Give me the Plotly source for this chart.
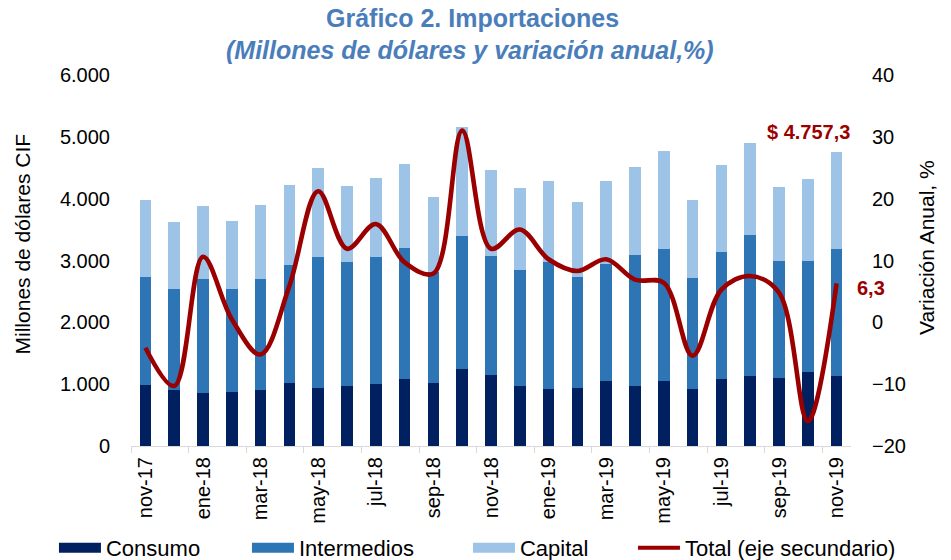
import plotly.graph_objects as go

months = ["nov-17", "dic-17", "ene-18", "feb-18", "mar-18", "abr-18", "may-18", "jun-18",
          "jul-18", "ago-18", "sep-18", "oct-18", "nov-18", "dic-18", "ene-19", "feb-19",
          "mar-19", "abr-19", "may-19", "jun-19", "jul-19", "ago-19", "sep-19", "oct-19", "nov-19"]

consumo = [987, 906, 863, 879, 906, 1025, 944, 976, 998, 1090, 1025, 1252, 1154,
           976, 917, 944, 1047, 976, 1057, 917, 1079, 1138, 1106, 1203, 1138]
intermedios = [1753, 1634, 1839, 1661, 1796, 1904, 2109, 2007, 2066, 2119, 1785, 2146, 1920,
               1872, 2066, 1785, 1893, 2109, 2136, 1807, 2055, 2276, 1888, 1797, 2055]
capital = [1241, 1090, 1181, 1101, 1198, 1294, 1440, 1229, 1267, 1354, 1224, 1759, 1392,
           1321, 1305, 1214, 1348, 1430, 1581, 1251, 1418, 1484, 1197, 1320, 1564.3]
variacion = [-4.1, -10.3, 10.6, 0.5, -5.2, 5.9, 21.2, 11.9, 15.9, 9.7, 7.9, 31.0, 11.9,
             15.0, 10.2, 8.3, 10.2, 6.9, 6.4, -5.4, 5.3, 7.5, 4.8, -16.0, 6.3]

FONT = "Liberation Sans, Arial, sans-serif"
C_CONS = "#002060"
C_INT = "#2E75B6"
C_CAP = "#9DC3E6"
C_TOT = "#9B0000"
C_TITLE = "#4A7EBB"


def es_num(v, dec=1):
    s = f"{v:,.{dec}f}"
    return s.replace(",", "X").replace(".", ",").replace("X", ".")


total_last = consumo[-1] + intermedios[-1] + capital[-1]

fig = go.Figure()
for name, vals, col in [("Consumo", consumo, C_CONS), ("Intermedios", intermedios, C_INT),
                        ("Capital", capital, C_CAP)]:
    fig.add_trace(go.Bar(x=months, y=vals, name=name, marker_color=col,
                         marker_line_width=0, showlegend=False))

fig.add_trace(go.Scatter(x=months, y=variacion, yaxis="y2", mode="lines",
                         line=dict(color=C_TOT, width=4.6, shape="spline", smoothing=1.0),
                         name="Total (eje secundario)", showlegend=False))

# legend entries (wide swatches like the original)
for name, col, w, lw in [("Consumo", C_CONS, 10, 136), ("Intermedios", C_INT, 10, 164),
                         ("Capital", C_CAP, 10, 108), ("Total (eje secundario)", C_TOT, 4, None)]:
    fig.add_trace(go.Scatter(x=[months[0]], y=[None], mode="lines", name=name,
                             line=dict(color=col, width=w), showlegend=True,
                             legendwidth=lw))

fig.update_layout(
    width=951, height=560,
    barmode="stack", bargap=0.6,
    separators=",.",
    paper_bgcolor="white", plot_bgcolor="white",
    margin=dict(l=131, r=100, t=75, b=114, autoexpand=False),
    font=dict(family=FONT, size=20, color="#000000"),
    xaxis=dict(
        type="category", categoryorder="array", categoryarray=months,
        range=[-0.5, len(months) - 0.5],
        tickmode="linear", tick0=0, dtick=2, tickson="boundaries",
        ticks="outside", ticklen=6, tickcolor="#D9D9D9",
        showline=True, linecolor="#D9D9D9", linewidth=1,
        tickangle=-90, showgrid=False, ticklabelstandoff=2,
        tickfont=dict(size=20),
    ),
    yaxis=dict(
        range=[0, 6000], dtick=1000, tickformat=",d", showgrid=False,
        zeroline=False, showline=False, ticks="", ticklabelstandoff=20,
        tickfont=dict(size=20),
    ),
    yaxis2=dict(
        range=[-20, 40], dtick=10, overlaying="y", side="right", showgrid=False,
        zeroline=False, showline=False, ticks="", ticklabelstandoff=20,
        tickfont=dict(size=20),
    ),
    legend=dict(
        orientation="h", x=-0.107, xanchor="left", y=-0.275, yanchor="middle",
        itemwidth=42, font=dict(size=22), traceorder="normal",
    ),
    annotations=[
        dict(text="<b>Gráfico 2. Importaciones</b>", xref="paper", yref="paper",
             x=0.474, y=1.1536, showarrow=False, xanchor="center", yanchor="middle",
             font=dict(size=25, color=C_TITLE)),
        dict(text="<b><i>(Millones de dólares y variación anual,%)</i></b>", xref="paper",
             yref="paper", x=0.471, y=1.0674, showarrow=False, xanchor="center",
             yanchor="middle", font=dict(size=25, color=C_TITLE)),
        dict(text="Millones de dólares CIF", textangle=-90, xref="paper", yref="paper",
             x=-0.151, y=0.544, showarrow=False, font=dict(size=21), xanchor="center",
             yanchor="middle"),
        dict(text="Variación Anual, %", textangle=-90, xref="paper", yref="paper",
             x=1.104, y=0.536, showarrow=False, font=dict(size=21), xanchor="center",
             yanchor="middle"),
        dict(text="<b>$ " + es_num(total_last) + "</b>", x=months[-1], y=total_last,
             xref="x", yref="y", showarrow=False, xshift=-28, yshift=20,
             font=dict(size=20, color=C_TOT)),
        dict(text="<b>" + es_num(variacion[-1]) + "</b>", x=months[-1], y=variacion[-1],
             xref="x", yref="y2", showarrow=False, xshift=34, yshift=-5,
             font=dict(size=20, color=C_TOT)),
    ],
)

fig.write_html("out.html", config={"displayModeBar": False},
               post_script="document.body.style.margin='0';")
